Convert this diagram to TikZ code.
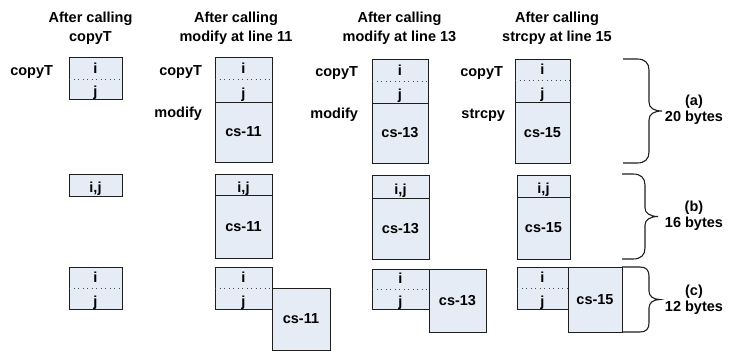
\documentclass[tikz,border=0pt]{standalone}
\usepackage{fontspec}
\setmainfont{Liberation Sans}
\definecolor{boxfill}{RGB}{230,236,246}
\definecolor{edge}{RGB}{30,30,30}
\begin{document}
\begin{tikzpicture}[x=1pt,y=-1pt,
  every node/.style={font=\fontsize{14.5}{16}\selectfont\bfseries, inner sep=0pt, outer sep=0pt},
  cell/.style={draw=edge, fill=boxfill, line width=1pt, rectangle, anchor=north west},
  dotline/.style={draw=black!70, line width=1pt, dash pattern=on 1pt off 3.5pt},
  bracepath/.style={draw=edge, line width=1.1pt},
  head/.style={align=center, font=\fontsize{14.5}{19}\selectfont\bfseries},
  blabel/.style={align=center, font=\fontsize{14.5}{16}\selectfont\bfseries},
  lab/.style={anchor=base east},
  txt/.style={anchor=base}]
\useasboundingbox (0,0) rectangle (729,351);

% headings
\node[head] (h1) at (90.5,28) {After calling\\copyT};
\node[head] (h2) at (236,28) {After calling\\modify at line 11};
\node[head] (h3) at (399.5,28) {After calling\\modify at line 13};
\node[head] (h4) at (557,28) {After calling\\strcpy at line 15};

% ---------- row (a) ----------
\node[lab] (l1c) at (53,75) {copyT};
\node[cell, minimum width=53pt, minimum height=42pt] (a1) at (69,57) {};
\draw[dotline] (69,79) -- (122,79);
\node[txt] (a1i) at (95.5,73) {i};
\node[txt] (a1j) at (95.5,96) {j};

\node[lab] (l2c) at (202,75) {copyT};
\node[lab] (l2m) at (202,117) {modify};
\node[cell, minimum width=57pt, minimum height=45pt] (a2) at (215,57) {};
\node[cell, minimum width=57pt, minimum height=60pt] (a2cs) at (215,102) {cs-11};
\draw[dotline] (215,79) -- (272,79);
\node[txt] (a2i) at (243.5,73) {i};
\node[txt] (a2j) at (243.5,98.5) {j};

\node[lab] (l3c) at (358,76) {copyT};
\node[lab] (l3m) at (358,118) {modify};
\node[cell, minimum width=56pt, minimum height=44pt] (a3) at (372,59) {};
\node[cell, minimum width=56pt, minimum height=60pt] (a3cs) at (372,103) {cs-13};
\draw[dotline] (372,81) -- (428,81);
\node[txt] (a3i) at (400,75) {i};
\node[txt] (a3j) at (400,99.5) {j};

\node[lab] (l4c) at (503,76) {copyT};
\node[lab] (l4s) at (505,118) {strcpy};
\node[cell, minimum width=55pt, minimum height=43pt] (a4) at (515,59) {};
\node[cell, minimum width=55pt, minimum height=61pt] (a4cs) at (515,102) {cs-15};
\draw[dotline] (515,80) -- (570,80);
\node[txt] (a4i) at (542.5,74) {i};
\node[txt] (a4j) at (542.5,98.5) {j};

\draw[bracepath] (623,59) -- (637,59) .. controls (645,59) and (649,63) .. (649,70) -- (649,102) .. controls (649,108) and (654,111) .. (662,111) .. controls (654,111) and (649,114) .. (649,120) -- (649,152) .. controls (649,159) and (645,163) .. (637,163) -- (623,163);
\node[blabel] (ba) at (694,110) {(a)\\20 bytes};

% ---------- row (b) ----------
\node[cell, minimum width=53pt, minimum height=22pt] (b1) at (69,174) {};
\node[txt] (b1t) at (95.5,192.5) {i,j};

\node[cell, minimum width=57pt, minimum height=21pt] (b2) at (215,174) {};
\node[cell, minimum width=57pt, minimum height=63pt] (b2cs) at (215,195) {cs-11};
\node[txt] (b2t) at (243.5,192) {i,j};

\node[cell, minimum width=57pt, minimum height=23pt] (b3) at (372,175) {};
\node[cell, minimum width=57pt, minimum height=61pt] (b3cs) at (372,198) {cs-13};
\node[txt] (b3t) at (400.5,194) {i,j};

\node[cell, minimum width=53pt, minimum height=22pt] (b4) at (517,175) {};
\node[cell, minimum width=53pt, minimum height=62pt] (b4cs) at (517,197) {cs-15};
\node[txt] (b4t) at (543.5,193) {i,j};

\draw[bracepath] (622,174) -- (633,174) .. controls (641,174) and (645,178) .. (645,185) -- (645,208) .. controls (645,213) and (650,216.5) .. (658,216.5) .. controls (650,216.5) and (645,220) .. (645,225) -- (645,248) .. controls (645,255) and (641,259) .. (633,259) -- (622,259);
\node[blabel] (bb) at (694,216) {(b)\\16 bytes};

% ---------- row (c) ----------
\node[cell, minimum width=53pt, minimum height=42pt] (c1) at (69,267) {};
\draw[dotline] (69,288) -- (122,288);
\node[txt] (c1i) at (95.5,282) {i};
\node[txt] (c1j) at (95.5,306) {j};

\node[cell, minimum width=57pt, minimum height=42pt] (c2) at (215,267) {};
\node[cell, minimum width=58pt, minimum height=62pt] (c2cs) at (272,288) {cs-11};
\draw[dotline] (215,288) -- (272,288);
\node[txt] (c2i) at (243.5,282) {i};
\node[txt] (c2j) at (243.5,306) {j};

\node[cell, minimum width=57pt, minimum height=40pt] (c3) at (372,269) {};
\node[cell, minimum width=57pt, minimum height=63pt] (c3cs) at (429,269) {cs-13};
\draw[dotline] (372,289) -- (429,289);
\node[txt] (c3i) at (400.5,283) {i};
\node[txt] (c3j) at (400.5,306) {j};

\node[cell, minimum width=51pt, minimum height=42pt] (c4) at (517,267) {};
\node[cell, minimum width=54pt, minimum height=65pt] (c4cs) at (568,267) {cs-15};
\draw[dotline] (517,288) -- (568,288);
\node[txt] (c4i) at (542.5,282) {i};
\node[txt] (c4j) at (542.5,306) {j};

\draw[bracepath] (c4cs.north east) -- (640,267) .. controls (646,267) and (649,270) .. (649,276) -- (649,291) .. controls (649,296) and (653,299.5) .. (660,299.5) .. controls (653,299.5) and (649,303) .. (649,308) -- (649,323) .. controls (649,329) and (646,332) .. (640,332) -- (c4cs.south east);
\node[blabel] (bc) at (694,299.5) {(c)\\12 bytes};
\end{tikzpicture}
\end{document}
